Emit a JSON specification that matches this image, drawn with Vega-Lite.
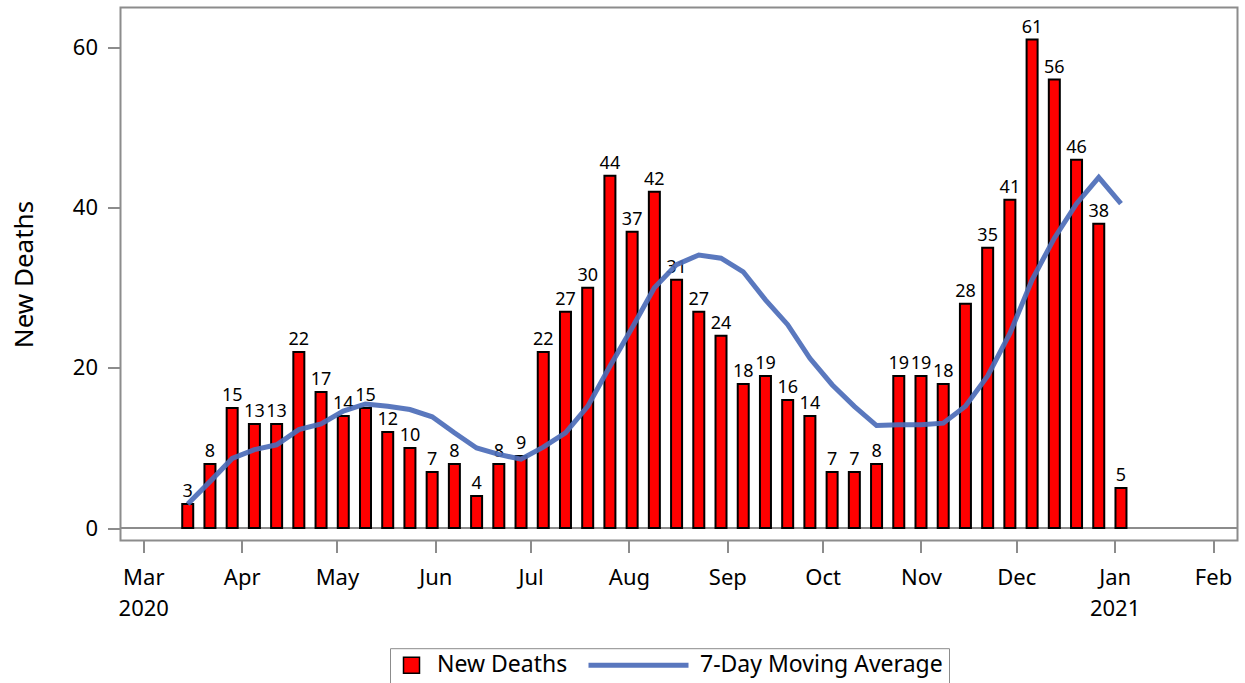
{
  "$schema": "https://vega.github.io/schema/vega-lite/v6.json",
  "width": 1117,
  "height": 533,
  "autosize": {"type": "none"},
  "padding": {"left": 120.5, "top": 7.5, "right": 7.5, "bottom": 142.5},
  "background": "white",
  "config": {
    "font": "Noto Sans",
    "view": {"stroke": "#8c8c8c", "strokeWidth": 2},
    "axis": {"labelColor": "black", "titleColor": "black", "tickColor": "#8c8c8c", "tickWidth": 2, "domain": false, "grid": false}
  },
  "data": {
    "values": [
      {"week": "2020/03/15", "deaths": 3, "ma": 3.0},
      {"week": "2020/03/22", "deaths": 8, "ma": 5.8},
      {"week": "2020/03/29", "deaths": 15, "ma": 8.7},
      {"week": "2020/04/05", "deaths": 13, "ma": 9.8},
      {"week": "2020/04/12", "deaths": 13, "ma": 10.4},
      {"week": "2020/04/19", "deaths": 22, "ma": 12.3},
      {"week": "2020/04/26", "deaths": 17, "ma": 13.0},
      {"week": "2020/05/03", "deaths": 14, "ma": 14.6},
      {"week": "2020/05/10", "deaths": 15, "ma": 15.5},
      {"week": "2020/05/17", "deaths": 12, "ma": 15.2},
      {"week": "2020/05/24", "deaths": 10, "ma": 14.8},
      {"week": "2020/05/31", "deaths": 7, "ma": 13.9},
      {"week": "2020/06/07", "deaths": 8, "ma": 11.9},
      {"week": "2020/06/14", "deaths": 4, "ma": 10.0},
      {"week": "2020/06/21", "deaths": 8, "ma": 9.2},
      {"week": "2020/06/28", "deaths": 9, "ma": 8.6},
      {"week": "2020/07/05", "deaths": 22, "ma": 10.1},
      {"week": "2020/07/12", "deaths": 27, "ma": 11.9},
      {"week": "2020/07/19", "deaths": 30, "ma": 15.2},
      {"week": "2020/07/26", "deaths": 44, "ma": 20.2},
      {"week": "2020/08/02", "deaths": 37, "ma": 25.0},
      {"week": "2020/08/09", "deaths": 42, "ma": 30.0},
      {"week": "2020/08/16", "deaths": 31, "ma": 32.9},
      {"week": "2020/08/23", "deaths": 27, "ma": 34.1},
      {"week": "2020/08/30", "deaths": 24, "ma": 33.7},
      {"week": "2020/09/06", "deaths": 18, "ma": 32.0},
      {"week": "2020/09/13", "deaths": 19, "ma": 28.5},
      {"week": "2020/09/20", "deaths": 16, "ma": 25.4},
      {"week": "2020/09/27", "deaths": 14, "ma": 21.2},
      {"week": "2020/10/04", "deaths": 7, "ma": 17.9},
      {"week": "2020/10/11", "deaths": 7, "ma": 15.2},
      {"week": "2020/10/18", "deaths": 8, "ma": 12.8},
      {"week": "2020/10/25", "deaths": 19, "ma": 12.9},
      {"week": "2020/11/01", "deaths": 19, "ma": 12.9},
      {"week": "2020/11/08", "deaths": 18, "ma": 13.1},
      {"week": "2020/11/15", "deaths": 28, "ma": 15.2},
      {"week": "2020/11/22", "deaths": 35, "ma": 19.0},
      {"week": "2020/11/29", "deaths": 41, "ma": 24.3},
      {"week": "2020/12/06", "deaths": 61, "ma": 31.0},
      {"week": "2020/12/13", "deaths": 56, "ma": 36.2},
      {"week": "2020/12/20", "deaths": 46, "ma": 40.5},
      {"week": "2020/12/27", "deaths": 38, "ma": 43.8},
      {"week": "2021/01/03", "deaths": 5, "ma": 40.5}
    ]
  },
  "layer": [
    {
      "mark": {"type": "rule", "color": "#8c8c8c", "strokeWidth": 2},
      "encoding": {"y": {"datum": 0, "type": "quantitative"}}
    },
    {
      "mark": {"type": "bar", "width": 11, "stroke": "black", "strokeWidth": 2},
      "encoding": {
        "x": {
          "field": "week",
          "type": "temporal",
          "scale": {"padding": 0, "domain": [{"year": 2020, "month": 2, "date": 22, "hours": 19, "minutes": 40}, {"year": 2021, "month": 2, "date": 8, "hours": 17}]},
          "axis": {
            "title": null,
            "values": [
              {"year": 2020, "month": 3, "date": 1}, {"year": 2020, "month": 4, "date": 1}, {"year": 2020, "month": 5, "date": 1},
              {"year": 2020, "month": 6, "date": 1}, {"year": 2020, "month": 7, "date": 1}, {"year": 2020, "month": 8, "date": 1},
              {"year": 2020, "month": 9, "date": 1}, {"year": 2020, "month": 10, "date": 1}, {"year": 2020, "month": 11, "date": 1},
              {"year": 2020, "month": 12, "date": 1}, {"year": 2021, "month": 1, "date": 1}, {"year": 2021, "month": 2, "date": 1}
            ],
            "labelExpr": "(month(datum.value) == 0 || (month(datum.value) == 2 && year(datum.value) == 2020)) ? [timeFormat(datum.value, '%b'), timeFormat(datum.value, '%Y')] : timeFormat(datum.value, '%b')",
            "tickSize": 12,
            "labelFontSize": 22,
            "labelPadding": 15,
            "labelLineHeight": 31,
            "labelFlush": false,
            "labelOverlap": false
          }
        },
        "y": {
          "field": "deaths",
          "type": "quantitative",
          "scale": {"domain": [-1.55, 65.0], "nice": false, "zero": false},
          "axis": {
            "title": "New Deaths",
            "titleFontSize": 26,
            "titleFontWeight": "normal",
            "titlePadding": 35,
            "values": [0, 20, 40, 60],
            "tickSize": 13,
            "labelFontSize": 22,
            "labelPadding": 10
          }
        },
        "fill": {
          "datum": "New Deaths",
          "type": "nominal",
          "scale": {"domain": ["New Deaths"], "range": ["#ff0000"]},
          "legend": {
            "title": null,
            "orient": "none",
            "legendX": 269.5,
            "legendY": 636.7,
            "padding": 10,
            "clipHeight": 22,
            "labelFontSize": 23,
            "labelLimit": 400,
            "labelColor": "black",
            "symbolSize": 256,
            "symbolType": "square",
            "symbolStrokeColor": "black",
            "symbolStrokeWidth": 1.5,
            "symbolOpacity": 1,
            "labelOffset": 14
          }
        }
      }
    },
    {
      "mark": {"type": "text", "baseline": "alphabetic", "dy": -7, "fontSize": 18, "color": "black"},
      "encoding": {
        "x": {"field": "week", "type": "temporal"},
        "y": {"field": "deaths", "type": "quantitative"},
        "text": {"field": "deaths", "type": "quantitative"}
      }
    },
    {
      "mark": {"type": "line", "strokeWidth": 5, "opacity": 0.92},
      "encoding": {
        "x": {"field": "week", "type": "temporal"},
        "y": {"field": "ma", "type": "quantitative"},
        "stroke": {
          "datum": "7-Day Moving Average",
          "type": "nominal",
          "scale": {"domain": ["7-Day Moving Average"], "range": ["#4c6cb9"]},
          "legend": {
            "title": null,
            "orient": "none",
            "legendX": 269.5,
            "legendY": 640.7,
            "padding": 6,
            "clipHeight": 22,
            "strokeColor": "#8c8c8c",
            "labelFontSize": 23,
            "labelLimit": 400,
            "labelColor": "black",
            "symbolType": "stroke",
            "symbolSize": 10000,
            "symbolStrokeWidth": 5,
            "symbolOffset": 190,
            "labelOffset": 9
          }
        }
      }
    }
  ]
}
